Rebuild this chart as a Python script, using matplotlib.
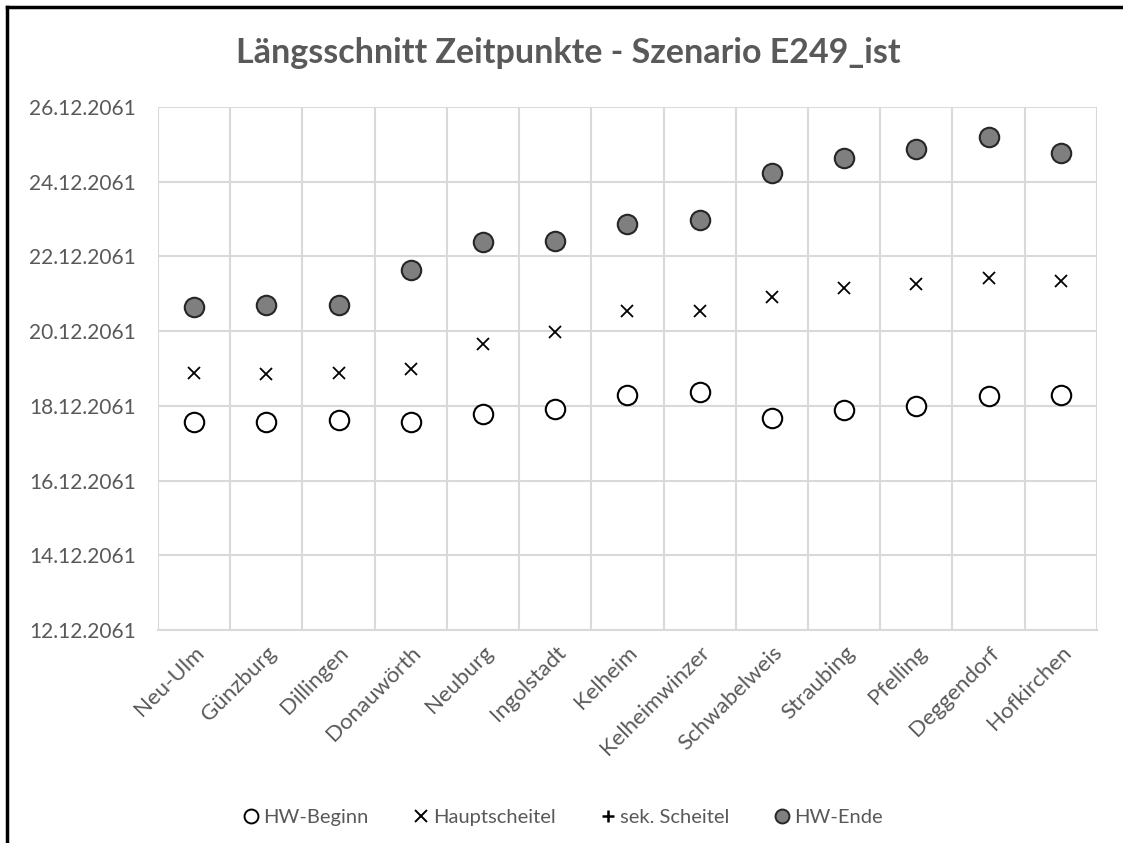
import matplotlib
matplotlib.use("Agg")
import matplotlib.pyplot as plt
import matplotlib.dates as mdates
from matplotlib.lines import Line2D
import pandas as pd

# Pegel entlang der Donau
stationen = ["Neu-Ulm", "Günzburg", "Dillingen", "Donauwörth", "Neuburg", "Ingolstadt",
             "Kelheim", "Kelheimwinzer", "Schwabelweis", "Straubing", "Pfelling",
             "Deggendorf", "Hofkirchen"]

hw_beginn = ["2061-12-17 13:40", "2061-12-17 13:40", "2061-12-17 14:50", "2061-12-17 13:40",
             "2061-12-17 18:40", "2061-12-17 22:05", "2061-12-18 07:00", "2061-12-18 08:50",
             "2061-12-17 16:05", "2061-12-17 21:20", "2061-12-18 00:00", "2061-12-18 06:15",
             "2061-12-18 07:00"]

hauptscheitel = ["2061-12-18 21:10", "2061-12-18 20:25", "2061-12-18 21:10", "2061-12-18 23:45",
                 "2061-12-19 15:50", "2061-12-19 23:30", "2061-12-20 13:00", "2061-12-20 13:00",
                 "2061-12-20 21:50", "2061-12-21 03:35", "2061-12-21 06:15", "2061-12-21 10:05",
                 "2061-12-21 08:10"]

sek_scheitel = []  # keine Werte

hw_ende = ["2061-12-20 15:36", "2061-12-20 16:48", "2061-12-20 16:48", "2061-12-21 15:20",
           "2061-12-22 09:20", "2061-12-22 09:50", "2061-12-22 20:50", "2061-12-22 23:15",
           "2061-12-24 05:30", "2061-12-24 15:10", "2061-12-24 20:50", "2061-12-25 04:50",
           "2061-12-24 18:30"]

grau = "#595959"
gitter = "#d9d9d9"

fig = plt.figure(figsize=(11.23, 8.43), dpi=100)
ax = fig.add_axes([0.1407, 0.2527, 0.8361, 0.6204])

x = list(range(len(stationen)))
ax.plot(x, pd.to_datetime(hw_beginn), ls="none", marker="o", ms=14, mfc="white",
        mec="black", mew=1.5, label="HW-Beginn", zorder=3)
ax.plot(x, pd.to_datetime(hauptscheitel), ls="none", marker="x", ms=9, mec="black",
        mew=1.3, label="Hauptscheitel", zorder=3)
ax.plot(pd.to_datetime(sek_scheitel), pd.to_datetime(sek_scheitel), ls="none", marker="+",
        ms=9, mec="black", mew=1.5, label="sek. Scheitel")
ax.plot(x, pd.to_datetime(hw_ende), ls="none", marker="o", ms=14, mfc="#7f7f7f",
        mec="#262626", mew=1.5, label="HW-Ende", zorder=3)

ax.set_xlim(-0.5, len(stationen) - 0.5)
ax.set_ylim(pd.Timestamp("2061-12-12"), pd.Timestamp("2061-12-26"))
ax.yaxis.set_major_locator(mdates.DayLocator(bymonthday=range(12, 27, 2)))
ax.yaxis.set_major_formatter(mdates.DateFormatter("%d.%m.%Y"))

ax.set_xticks(x)
ax.set_xticklabels(stationen, rotation=45, ha="right", rotation_mode="anchor")
ax.set_xticks([i + 0.5 for i in range(-1, len(stationen))], minor=True)
ax.grid(True, axis="y", which="major", color=gitter, lw=1.5)
ax.grid(True, axis="x", which="minor", color=gitter, lw=1.5)
ax.set_axisbelow(True)
ax.tick_params(axis="both", which="both", length=0, colors=grau, labelsize=15)
ax.tick_params(axis="x", pad=9, labelsize=16)
ax.tick_params(axis="y", pad=16)
for lbl in ax.get_xticklabels() + ax.get_yticklabels():
    lbl.set_family("Lato")
for s in ["top", "right", "left"]:
    ax.spines[s].set_visible(False)
ax.spines["bottom"].set_color(gitter)
ax.spines["bottom"].set_linewidth(1.5)

fig.text(0.506, 0.937, "Längsschnitt Zeitpunkte - Szenario E249_ist", ha="center", va="center",
         fontsize=24.5, fontweight="bold", color=grau, family="Lato")

handles = [
    Line2D([], [], ls="none", marker="o", ms=10, mfc="white", mec="black", mew=1.4),
    Line2D([], [], ls="none", marker="x", ms=8, mec="black", mew=1.4),
    Line2D([], [], ls="none", marker="+", ms=9, mec="black", mew=1.8),
    Line2D([], [], ls="none", marker="o", ms=10, mfc="#7f7f7f", mec="#262626", mew=1.4),
]
leg = fig.legend(handles, ["HW-Beginn", "Hauptscheitel", "sek. Scheitel", "HW-Ende"],
                 loc="center", bbox_to_anchor=(0.5, 0.03), ncol=4, frameon=False,
                 handletextpad=0.1, columnspacing=2.1, handlelength=1.0,
                 prop={"family": "Lato", "size": 14.5})
for t in leg.get_texts():
    t.set_color(grau)

# schwarzer Rahmen oben und links
fig.add_artist(Line2D([7 / 1123, 1.0], [1 - 7 / 843, 1 - 7 / 843], color="black", lw=2.5,
                      transform=fig.transFigure))
fig.add_artist(Line2D([7 / 1123, 7 / 1123], [0.0, 1 - 7 / 843], color="black", lw=2.5,
                      transform=fig.transFigure))

fig.savefig("out.png", dpi=100)
